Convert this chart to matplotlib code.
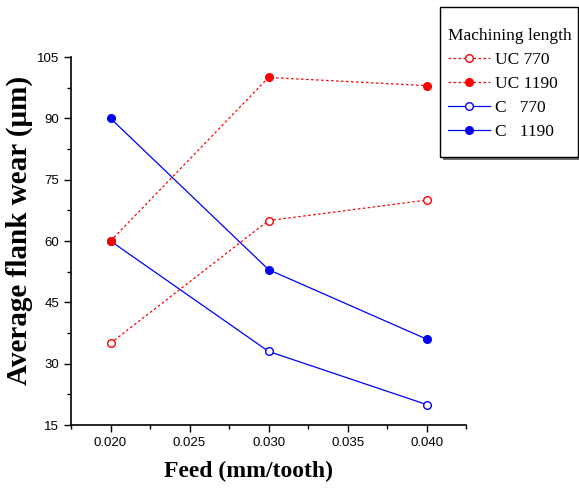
import matplotlib
matplotlib.use("Agg")
import matplotlib.pyplot as plt
from matplotlib.patches import Rectangle
from matplotlib.ticker import MultipleLocator

feed = [0.020, 0.030, 0.040]
uc_770 = [35, 65, 70]
uc_1190 = [60, 100, 98]
c_770 = [60, 33, 20]
c_1190 = [90, 53, 36]

W, H = 579, 491
fig = plt.figure(figsize=(W / 100, H / 100), dpi=100)
ax = fig.add_axes([0.1226, 0.1344, 0.6825, 0.7495])

dot = (0, (2, 2))
ax.plot(feed, uc_770, ls=dot, color="red", lw=0.9, marker="o", ms=5.5,
        mfc="white", mec="red", label="UC 770", zorder=3)
ax.plot(feed, uc_1190, ls=dot, color="red", lw=0.9, marker="o", ms=5.5,
        mfc="red", mec="red", label="UC 1190", zorder=4)
ax.plot(feed, c_770, ls="-", color="blue", lw=0.9, marker="o", ms=5.5,
        mfc="white", mec="blue", label="C   770", zorder=2)
ax.plot(feed, c_1190, ls="-", color="blue", lw=0.9, marker="o", ms=5.5,
        mfc="blue", mec="blue", label="C   1190", zorder=2)

ax.set_xlim(0.0175, 0.0425)
ax.set_ylim(15, 105)
ax.xaxis.set_major_locator(MultipleLocator(0.005))
ax.xaxis.set_minor_locator(MultipleLocator(0.0025))
ax.yaxis.set_major_locator(MultipleLocator(15))
ax.yaxis.set_minor_locator(MultipleLocator(7.5))
ax.xaxis.set_major_formatter(plt.FuncFormatter(lambda v, p: "%.3f" % v))

for s in ["top", "right"]:
    ax.spines[s].set_visible(False)
for s in ["left", "bottom"]:
    ax.spines[s].set_linewidth(1.2)
ax.tick_params(which="both", direction="out", width=1.0)
ax.tick_params(which="major", length=5)
ax.tick_params(which="minor", length=3)
for lab in ax.get_xticklabels() + ax.get_yticklabels():
    lab.set_family("Liberation Sans")
    lab.set_fontsize(9.5)

ax.set_xlabel("Feed (mm/tooth)", family="Liberation Serif", fontsize=17,
              fontweight="bold", va="top")
ax.xaxis.set_label_coords(0.45, -0.098)
ax.set_ylabel("Average flank wear (\u03bcm)", family="Liberation Serif",
              fontsize=21, fontweight="bold")
ax.yaxis.set_label_coords(-0.096, 0.53)

# legend box (Origin style: square frame with grey drop shadow)
bx0, by0, bx1, by1 = 440, 7, 578, 157
fig.patches.append(Rectangle(((bx0 + 3) / W, 1 - (by1 + 3) / H),
                             (bx1 - bx0) / W, (by1 - by0) / H,
                             transform=fig.transFigure, facecolor="#707070",
                             edgecolor="none", zorder=5))
fig.patches.append(Rectangle((bx0 / W, 1 - by1 / H),
                             (bx1 - bx0) / W, (by1 - by0) / H,
                             transform=fig.transFigure, facecolor="white",
                             edgecolor="black", lw=1.0, zorder=6))

leg = fig.legend(loc="center", bbox_to_anchor=(510 / W, 1 - 84 / H),
                 title="Machining length", frameon=False, handlelength=2.4,
                 handletextpad=0.3, borderpad=0.0, labelspacing=0.45,
                 borderaxespad=0.0, alignment="left",
                 prop={"family": "Liberation Serif", "size": 12.5})
leg.set_zorder(7)
leg.get_title().set_family("Liberation Serif")
leg.get_title().set_fontsize(12.5)

fig.savefig("out.png", dpi=100)
